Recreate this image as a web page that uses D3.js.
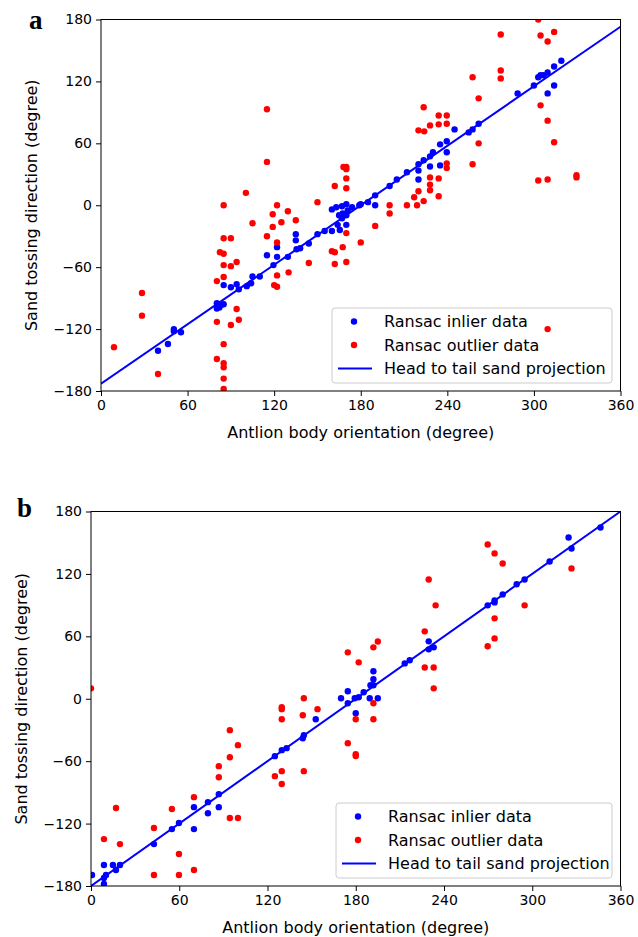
<!DOCTYPE html>
<html><head><meta charset="utf-8">
<script src="https://cdn.jsdelivr.net/npm/d3@7"></script>
<style>body{margin:0;background:#fff}svg{display:block}</style>
</head><body>
<script>
const xTicks = [0, 60, 120, 180, 240, 300, 360];
const yTicks = [-180, -120, -60, 0, 60, 120, 180];
const legendLabels = ["Ransac inlier data", "Ransac outlier data", "Head to tail sand projection"];
const xLabel = "Antlion body orientation (degree)";
const yLabel = "Sand tossing direction (degree)";

const aInliers = [[39.5,-141],[46.4,-134.5],[50.5,-120],[50.5,-122],[55.4,-123],
[80.3,-95],[80.3,-100],[83,-97],[85,-96],[82,-99],
[85,-77.4],[90,-79.5],[94,-76.5],[95.5,-81.5],[101,-78.4],[104,-75.6],[105,-69],[110,-69],
[115,-48.4],[119.5,-58],[122,-40.6],[122,-50],[129.5,-50],[135,-28],[135,-34],[135.5,-42.6],[138,-41.6],[144,-37],[150,-28],[155,-25],[160,-25],[165.5,-24],[164,-19],[170,-19],[167,-12.6],[165,-9.7],[167.5,-8],[170,-9.7],[171,-5],[160,-4],[163,-2],[167,-1],[170,1],[174,-2],[179,0],[180,1],[185,3],[190,0],[190,9.6],[200,18.6],[205,25],[212,32],[220,25],[220,33.6],[220,39.7],[223.6,43.6],[228,47.4],[228,37.6],[230,51.5],[235,38.6],[235,59],[239.6,62],[239.6,51.4],[245,73.5],[254.8,70.6],[257.5,73.5],[261.7,79],[288.7,108.4],[300,116],[303,124],[304.6,126],[306.7,126],[309.5,128.7],[309.5,108.4],[314,134.5],[314,116],[319,140]];

const aOutliers = [[9,-137.5],[28.4,-85],[28.4,-107],[39.5,-163.5],
[85,0],[100.4,12],[115,93],[115,42],
[119,-8.7],[119,-21],[105,-17.5],[85,-32],[90,-32],[115,-30],[82.4,-45.5],[85,-47],[94,-55],[85,-58],[90,-59],[80.3,-73.5],[85,-69.5],[120,-77.4],[122,-79],[94,-100.6],[80.3,-113],[90,-116],[95.5,-111],[85,-134.6],[80.3,-149],[85,-153],[85,-157],[85,-168],[85,-178],
[122,0],[129.5,-5.8],[125,-16.5],[135,-14.5],[122,-36],[130,-65],[122,-68],
[150,3],[162,18.6],[168,37],[170,37],[170,35],[170,26],[170,16.5],[170,-27],[160,-44.5],[162,-45.5],[167.5,-40.6],[144,-56],[162,-57],[170,-55],[180,-36],[190,-20],[200,0],[200,-8],[212,0],[219,0],[223.6,4],[217,7.7],[220,13.5],[228,14.5],[228,20],[228,27],[234,26],[234,8.7],
[239.6,40.6],[239.6,36],[220,72.6],[224,71.6],[228,77.4],[234,78.4],[239.6,79],[234,87],[239.6,87],[223.6,95],
[257.5,124],[261.7,103.6],[261.7,60],[257.5,39.7],[277,165.5],[277,130.6],[277,122.9],[303,180],[304.6,164.5],[314,168],[309.5,158.7],[304.6,96.8],[309.5,82],[314,61],[303,24],[309.5,25],[329.5,29],[329.5,27],[309.5,-120]];

const aLine = [[0,-173],[360,173]];

const bInliers = [[0.7,-169.4],[8.8,-159.8],[8.8,-172.3],[8.8,-178],[10.2,-169.4],[14.9,-159.8],[17,-164.6],[19.7,-159.8],
[42.8,-139.7],[55,-125.3],[59.8,-119.5],[70,-125.3],[70,-104.2],[79.5,-110],[79.5,-99.4],[86.9,-104.2],[86.9,-91.7],
[125,-55.2],[129.7,-49.4],[133,-47.5],[144,-38],[144.7,-35],[152.8,-19.7],
[170,0.5],[174.6,-4.3],[174.6,7.2],[179.3,0.5],[180,-13.9],[182,1.4],[185.4,6.2],[189.5,0.5],[190,13],[192,13],[192,18.7],[192,26.4],[195,0.5],
[213.3,34],[216.7,37],[229.6,55.2],[229.6,47.5],[233,49.4],
[269.7,89.8],[274.4,94.6],[274.4,92.6],[279.9,100.3],[289.4,110],[294.8,114.7],[311.8,132],[324.7,155],[326.7,144.5],[346.4,164.6]];

const bOutliers = [[0,10],[8.8,-134.9],[17,-105],[19.7,-139.7],[42.8,-124.3],[42.8,-169.4],[55,-106],[59.8,-149.3],[59.8,-169.4],[70,-94.6],[70,-164.6],[86.9,-64.8],[86.9,-75.4],[94.4,-30.2],[94.4,-56.2],[94.4,-114.7],[99.9,-44.6],[99.9,-114.7],
[125,-74.4],[129.7,-69.6],[129.7,-82],[129.7,-8.2],[129.7,-10],[129.7,-19.7],[144,-15.8],[144.7,-69.6],[144.7,0.5],[154,-10],
[174.6,44.6],[174.6,-42.7],[180,-53.3],[180,-55],[180,-19.7],[182,35],[192,-19.7],[192,-4.3],[192,49.4],[195,55],
[226.9,64.8],[226.9,30],[229.6,114.7],[233,30],[233,10],[234.3,89.8],
[269.7,148.3],[274.4,139.7],[279.9,130],[326.7,125.3],[294.8,89.8],[274.4,77.3],[274.4,58],[269.7,50.4]];

const bLine = [[0,-180],[360,180]];

const W = 638, H = 937;
const SANS = '"DejaVu Sans", sans-serif';
const svg = d3.select("body").append("svg").attr("width", W).attr("height", H);
const BLUE = "#0000ff", RED = "#ff0000";

function panel(cfg) {
  const x = d3.scaleLinear().domain([0, 360]).range([cfg.left, cfg.right]);
  const y = d3.scaleLinear().domain([-180, 180]).range([cfg.bottom, cfg.top]);
  const g = svg.append("g");

  // legend (drawn beneath the data so overlapping points stay vivid)
  const L = cfg.legend;
  const lg = g.append("g");
  lg.append("rect").attr("x", L.x).attr("y", L.y).attr("width", L.w).attr("height", L.h)
    .attr("rx", 3).attr("fill", "#fff")
    .attr("stroke", "#cccccc").attr("stroke-width", 1);
  const rowY = i => L.y + 13.5 + i * 23.5;
  lg.append("circle").attr("cx", L.x + 22).attr("cy", rowY(0)).attr("r", 3.2).attr("fill", BLUE);
  lg.append("circle").attr("cx", L.x + 22).attr("cy", rowY(1)).attr("r", 3.2).attr("fill", RED);
  lg.append("line").attr("x1", L.x + 6).attr("x2", L.x + 40).attr("y1", rowY(2)).attr("y2", rowY(2))
    .attr("stroke", BLUE).attr("stroke-width", 2);
  legendLabels.forEach((t, i) => {
    lg.append("text").attr("x", L.x + 52).attr("y", rowY(i)).attr("dy", "0.36em")
      .style("font-family", SANS).style("font-size", "16px").text(t);
  });

  const clipId = "clip" + cfg.letter;
  g.append("clipPath").attr("id", clipId).append("rect")
    .attr("x", cfg.left).attr("y", cfg.top)
    .attr("width", cfg.right - cfg.left).attr("height", cfg.bottom - cfg.top);
  const plot = g.append("g").attr("clip-path", `url(#${clipId})`);
  plot.selectAll("circle.in").data(cfg.inliers).join("circle")
    .attr("cx", d => x(d[0])).attr("cy", d => y(d[1])).attr("r", 3.2).attr("fill", BLUE);
  plot.selectAll("circle.out").data(cfg.outliers).join("circle")
    .attr("cx", d => x(d[0])).attr("cy", d => y(d[1])).attr("r", 3.2).attr("fill", RED);
  plot.append("path").datum(cfg.line)
    .attr("d", d3.line().x(d => x(d[0])).y(d => y(d[1])))
    .attr("stroke", BLUE).attr("stroke-width", 2).attr("fill", "none");

  const fmt = v => (v < 0 ? "\u2212" + Math.abs(v) : String(v));
  const xa = g.append("g").attr("transform", `translate(0,${cfg.bottom})`)
    .call(d3.axisBottom(x).tickValues(xTicks).tickFormat(fmt).tickSize(5).tickPadding(4));
  const ya = g.append("g").attr("transform", `translate(${cfg.left},0)`)
    .call(d3.axisLeft(y).tickValues(yTicks).tickFormat(fmt).tickSize(5).tickPadding(4));
  [xa, ya].forEach(a => {
    a.attr("font-family", null).attr("font-size", null);
    a.select(".domain").remove();
    a.selectAll("line").attr("stroke", "#000").attr("stroke-width", 1);
    a.selectAll("text").style("font-size", "14px").style("font-family", SANS).attr("fill", "#000");
  });
  g.append("rect").attr("x", cfg.left).attr("y", cfg.top)
    .attr("width", cfg.right - cfg.left).attr("height", cfg.bottom - cfg.top)
    .attr("fill", "none").attr("stroke", "#000").attr("stroke-width", 1);

  g.append("text").attr("x", (cfg.left + cfg.right) / 2).attr("y", cfg.bottom + 47)
    .attr("text-anchor", "middle").style("font-family", SANS).style("font-size", "16px").text(xLabel);
  g.append("text").attr("transform", `translate(${cfg.yLabelX},${(cfg.top + cfg.bottom) / 2}) rotate(-90)`)
    .attr("text-anchor", "middle").style("font-family", SANS).style("font-size", "16px").text(yLabel);
  g.append("text").attr("x", cfg.letterX).attr("y", cfg.letterY)
    .style("font-family", '"Liberation Serif", "DejaVu Serif", serif').style("font-weight", "bold")
    .style("font-size", "27px").text(cfg.letter);
}

panel({letter: "a", left: 101, right: 620.5, top: 19.5, bottom: 391,
  inliers: aInliers, outliers: aOutliers, line: aLine, yLabelX: 37, letterX: 29, letterY: 29,
  legend: {x: 332, y: 308, w: 280, h: 75}});
panel({letter: "b", left: 91, right: 620.5, top: 511.5, bottom: 886,
  inliers: bInliers, outliers: bOutliers, line: bLine, yLabelX: 27, letterX: 17, letterY: 517,
  legend: {x: 336, y: 803, w: 276, h: 75}});
</script>
</body></html>
